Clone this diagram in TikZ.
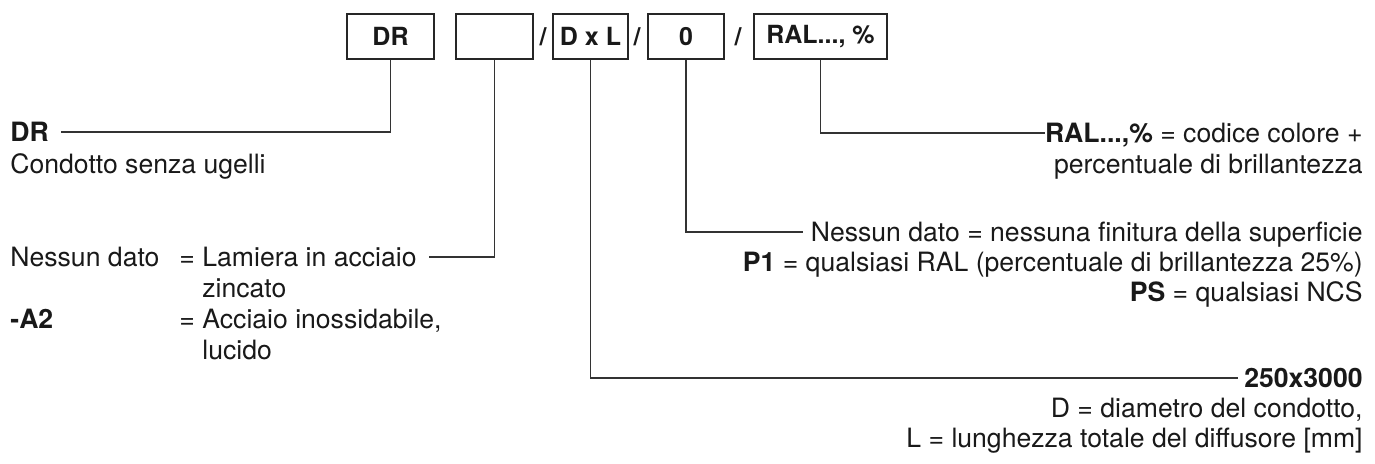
\documentclass[tikz,border=0pt]{standalone}
\usepackage{fontspec}
\setmainfont{TeX Gyre Heros}
\usetikzlibrary{positioning, calc}
\tikzset{
	code/.style={
		draw=black!85, line width=0.75pt,
		minimum height=22.5pt, inner sep=0pt,
		font=\fontsize{12.5}{14}\selectfont\bfseries,
		text=black!90
	},
	slash/.style={inner sep=0pt, font=\fontsize{12.5}{14}\selectfont\bfseries, text=black!90},
	txt/.style={
		inner sep=0pt,
		text height=9.5pt, text depth=0pt,
		font=\fontsize{13.3}{15.5}\selectfont,
		text=black!90
	},
	lead/.style={draw=black!80, line width=0.75pt}
}

\begin{document}
\begin{tikzpicture}[x=0.5pt,y=-0.5pt]
	\useasboundingbox (0,0) rectangle (1375,464);

	% code boxes
	\node[code, minimum width=43.5pt]	(bdr)		at (390.5,36.5)	{DR};
	\node[code, minimum width=38.5pt]	(bnone)	at (494.5,36.5)	{};
	\node[code, minimum width=37.5pt]	(bdxl)	at (590.5,36.5)	{D x L};
	\node[code, minimum width=38pt]		(bzero)	at (686,36.5)		{0};
	\node[code, minimum width=66.5pt]	(bral)	at (820.5,36.5)	{RAL..., \%};
	\node[slash] (s1) at (543,36.5) {/};
	\node[slash] (s2) at (637,36.5) {/};
	\node[slash] (s3) at (738,36.5) {/};

	% left side
	\node[txt, anchor=west] (dr)		at (10,132)		{\bfseries DR};
	\node[txt, anchor=west] (drd)		at (10,164)		{Condotto senza ugelli};
	\node[txt, anchor=west] (nd1)		at (10,257)		{Nessun dato};
	\node[txt, anchor=west] (eq1)		at (179,257)	{=};
	\node[txt, anchor=west] (lam)		at (202,257)	{Lamiera in acciaio};
	\node[txt, anchor=west] (zinc)	at (202,288)	{zincato};
	\node[txt, anchor=west] (a2)		at (10,319)		{\bfseries -A2};
	\node[txt, anchor=west] (eq2)		at (179,319)	{=};
	\node[txt, anchor=west] (inox)	at (202,319)	{Acciaio inossidabile,};
	\node[txt, anchor=west] (luc)		at (202,350)	{lucido};

	% right side
	\node[txt, anchor=east] (ral)		at (1363,133)	{\textbf{RAL...,\%} = codice colore +};
	\node[txt, anchor=east] (ralb)	at (1363,164)	{percentuale di brillantezza};
	\node[txt, anchor=east] (nd2)		at (1363,232)	{Nessun dato = nessuna finitura della superficie};
	\node[txt, anchor=east] (p1)		at (1363,262)	{\textbf{P1} = qualsiasi RAL (percentuale di brillantezza 25\%)};
	\node[txt, anchor=east] (ps)		at (1363,292)	{\textbf{PS} = qualsiasi NCS};
	\node[txt, anchor=east] (dim)		at (1363,378)	{\bfseries 250x3000};
	\node[txt, anchor=east] (dimd)	at (1363,408)	{D = diametro del condotto,};
	\node[txt, anchor=east] (diml)	at (1363,438)	{L = lunghezza totale del diffusore [mm]};

	% leaders
	\draw[lead] (bdr.south)		|- ([xshift=6pt]dr.east);
	\draw[lead] (bnone.south)	|- ([xshift=6pt]lam.east);
	\draw[lead] (bdxl.south)	|- ([xshift=-3pt]dim.west);
	\draw[lead] (bzero.south)	|- ([xshift=-3.5pt]nd2.west);
	\draw[lead] (bral.south)	|- (ral.west);
\end{tikzpicture}
\end{document}
